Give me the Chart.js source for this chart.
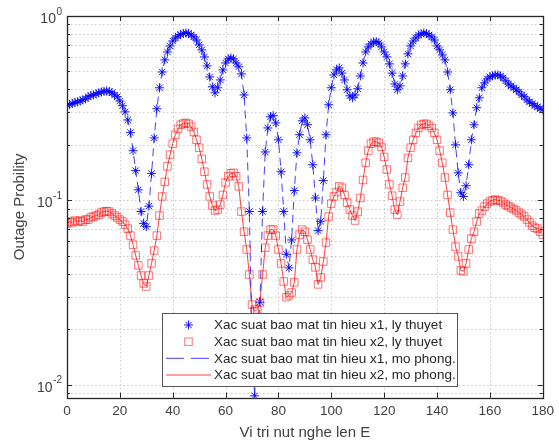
<!DOCTYPE html>
<html>
<head>
<meta charset="utf-8">
<script src="https://cdn.jsdelivr.net/npm/chart.js@4.4.1/dist/chart.umd.min.js"></script>
<style>
  html, body { margin: 0; padding: 0; background: #fff; }
  #wrap { width: 559px; height: 446px; }
</style>
</head>
<body>
<div id="wrap"><canvas id="outageChart" width="559" height="446"></canvas></div>
<script>
// ─── Data (x = vi tri nut nghe len E, step 1) ───
const xStart = 0;
const xStep = 1;

// x1, ly thuyet (blue asterisks)
const x1Theory = [
  0.330, 0.330, 0.335, 0.340, 0.342, 0.346, 0.351, 0.355, 0.365, 0.370,
  0.373, 0.378, 0.383, 0.387, 0.390, 0.392, 0.390, 0.383, 0.373, 0.365,
  0.346, 0.326, 0.302, 0.273, 0.233, 0.186, 0.145, 0.114, 0.087, 0.075,
  0.072, 0.093, 0.140, 0.218, 0.314, 0.408, 0.497, 0.578, 0.638, 0.688,
  0.732, 0.760, 0.780, 0.794, 0.804, 0.809, 0.804, 0.789, 0.770, 0.741,
  0.697, 0.655, 0.600, 0.536, 0.467, 0.413, 0.383, 0.408, 0.450, 0.510,
  0.556, 0.585, 0.592, 0.585, 0.556, 0.530, 0.485, 0.373, 0.218, 0.087,
  0.016, 0.0087, 0.018, 0.028, 0.087, 0.183, 0.247, 0.284, 0.288, 0.263,
  0.213, 0.143, 0.087, 0.051, 0.043, 0.061, 0.113, 0.181, 0.227, 0.270,
  0.280, 0.257, 0.213, 0.156, 0.103, 0.0685, 0.077, 0.128, 0.227, 0.330,
  0.408, 0.479, 0.510, 0.523, 0.490, 0.450, 0.398, 0.369, 0.360, 0.373,
  0.403, 0.473, 0.556, 0.638, 0.680, 0.705, 0.723, 0.727, 0.714, 0.680,
  0.638, 0.600, 0.550, 0.490, 0.428, 0.398, 0.418, 0.473, 0.550, 0.623,
  0.688, 0.732, 0.760, 0.789, 0.799, 0.809, 0.804, 0.789, 0.770, 0.741,
  0.688, 0.655, 0.615, 0.578, 0.497, 0.398, 0.298, 0.200, 0.141, 0.110,
  0.105, 0.120, 0.156, 0.213, 0.257, 0.318, 0.360, 0.408, 0.434, 0.456,
  0.468, 0.473, 0.479, 0.479, 0.473, 0.462, 0.445, 0.428, 0.418, 0.408,
  0.398, 0.388, 0.373, 0.365, 0.351, 0.342, 0.335, 0.326, 0.322, 0.314,
  0.310
];

// x2, ly thuyet (red squares)
const x2Theory = [
  0.0748, 0.0767, 0.0758, 0.0777, 0.0767, 0.0777, 0.0767, 0.0786, 0.0786, 0.0807,
  0.0817, 0.0827, 0.0837, 0.0858, 0.0869, 0.0874, 0.0869, 0.0848, 0.0827, 0.0807,
  0.0786, 0.0767, 0.0738, 0.0702, 0.0644, 0.0575, 0.0502, 0.0444, 0.0391, 0.0354,
  0.0341, 0.0391, 0.0455, 0.0534, 0.0644, 0.0827, 0.105, 0.126, 0.153, 0.177,
  0.203, 0.227, 0.244, 0.257, 0.261, 0.263, 0.260, 0.251, 0.235, 0.213,
  0.193, 0.168, 0.143, 0.122, 0.105, 0.0937, 0.0880, 0.0891, 0.0948, 0.107,
  0.125, 0.135, 0.140, 0.141, 0.135, 0.119, 0.0869, 0.0676, 0.0541, 0.0396,
  0.0272, 0.0250, 0.0256, 0.0279, 0.0396, 0.0554, 0.0644, 0.0694, 0.0694, 0.0644,
  0.0541, 0.0455, 0.0363, 0.0298, 0.0305, 0.0316, 0.0359, 0.0541, 0.0652, 0.0694,
  0.0676, 0.0612, 0.0541, 0.0477, 0.0433, 0.0350, 0.0382, 0.0466, 0.0590, 0.0817,
  0.0960, 0.105, 0.111, 0.119, 0.117, 0.107, 0.0972, 0.0891, 0.0827, 0.0777,
  0.0869, 0.103, 0.129, 0.160, 0.186, 0.203, 0.208, 0.208, 0.205, 0.195,
  0.172, 0.147, 0.122, 0.106, 0.0891, 0.0837, 0.0985, 0.117, 0.133, 0.170,
  0.193, 0.213, 0.232, 0.247, 0.257, 0.260, 0.260, 0.254, 0.247, 0.232,
  0.213, 0.186, 0.160, 0.133, 0.107, 0.0858, 0.0694, 0.0561, 0.0496, 0.0417,
  0.0412, 0.0455, 0.0541, 0.0620, 0.0676, 0.0767, 0.0848, 0.0880, 0.0925, 0.0960,
  0.0985, 0.100, 0.101, 0.100, 0.0994, 0.0972, 0.0948, 0.0931, 0.0914, 0.0897,
  0.0880, 0.0858, 0.0837, 0.0817, 0.0786, 0.0758, 0.0729, 0.0711, 0.0702, 0.0676,
  0.0652
];

// simulation curves sit on top of the theory points in the figure
const x1Sim = x1Theory;
const x2Sim = x2Theory;

const seriesLabels = [
  "Xac suat bao mat tin hieu x1, ly thuyet",
  "Xac suat bao mat tin hieu x2, ly thuyet",
  "Xac suat bao mat tin hieu x1, mo phong.",
  "Xac suat bao mat tin hieu x2, mo phong."
];

const xTitle = "Vi tri nut nghe len E";
const yTitle = "Outage Probility";

// axis ticks
const xMin = 0, xMax = 180, xTickStep = 20;
const yMin = 0.0085, yMax = 1;
const yTickValues = [
  0.009,
  0.01, 0.02, 0.03, 0.04, 0.05, 0.06, 0.07, 0.08, 0.09,
  0.1, 0.2, 0.3, 0.4, 0.5, 0.6, 0.7, 0.8, 0.9,
  1
];
const yLabelValues = [0.01, 0.1, 1];
const yLabelExponents = ["-2", "-1", "0"];

// ─── Styling ─────────────────────────────────────────────────────────
const BLUE = "rgba(0, 0, 255, 0.9)";
const BLUE_LINE = "rgba(0, 0, 255, 0.75)";
const RED_MARK = "rgba(255, 0, 0, 0.55)";
const RED_LINE = "rgba(255, 0, 0, 0.75)";
const GRID = "rgba(0, 0, 0, 0.2)";
const AXIS = "#262626";
const TEXT = "#404040";
const FONT = "'Liberation Sans', Arial, sans-serif";

const toPoints = (arr) => arr.map((v, i) => ({ x: xStart + i * xStep, y: v }));

// ─── MATLAB-look axes: dotted grid, box, inner ticks, y labels, legend ─
const matlabAxes = {
  id: "matlabAxes",
  beforeDatasetsDraw(chart) {
    const { ctx, chartArea: a, scales: { x, y } } = chart;
    ctx.save();
    ctx.strokeStyle = GRID;
    ctx.lineWidth = 1;
    ctx.setLineDash([1.5, 2.5]);
    x.ticks.forEach((t) => {
      const px = Math.round(x.getPixelForValue(t.value)) + 0.5;
      ctx.beginPath(); ctx.moveTo(px, a.top); ctx.lineTo(px, a.bottom); ctx.stroke();
    });
    y.ticks.forEach((t) => {
      const py = Math.round(y.getPixelForValue(t.value)) + 0.5;
      ctx.beginPath(); ctx.moveTo(a.left, py); ctx.lineTo(a.right, py); ctx.stroke();
    });
    ctx.restore();
  },
  afterDatasetsDraw(chart) {
    const { ctx, chartArea: a, scales: { x, y } } = chart;
    ctx.save();
    ctx.setLineDash([]);
    ctx.strokeStyle = AXIS;
    ctx.lineWidth = 1;

    // inner tick marks
    x.ticks.forEach((t) => {
      const px = Math.round(x.getPixelForValue(t.value)) + 0.5;
      ctx.beginPath();
      ctx.moveTo(px, a.bottom); ctx.lineTo(px, a.bottom - 5);
      ctx.moveTo(px, a.top); ctx.lineTo(px, a.top + 5);
      ctx.stroke();
    });
    y.ticks.forEach((t) => {
      const lg = Math.log10(t.value);
      const len = Math.abs(lg - Math.round(lg)) < 1e-9 ? 5 : 3;
      const py = Math.round(y.getPixelForValue(t.value)) + 0.5;
      ctx.beginPath();
      ctx.moveTo(a.left, py); ctx.lineTo(a.left + len, py);
      ctx.moveTo(a.right, py); ctx.lineTo(a.right - len, py);
      ctx.stroke();
    });

    // box
    ctx.lineWidth = 1.3;
    ctx.strokeRect(Math.round(a.left) + 0.5, Math.round(a.top) + 0.5,
      Math.round(a.right - a.left), Math.round(a.bottom - a.top));

    // y labels 10^n
    ctx.fillStyle = TEXT;
    ctx.textBaseline = "middle";
    ctx.textAlign = "right";
    yLabelValues.forEach((v, i) => {
      const py = y.getPixelForValue(v);
      const right = a.left - 5;
      ctx.font = `10px ${FONT}`;
      const ew = ctx.measureText(yLabelExponents[i]).width;
      ctx.fillText(yLabelExponents[i], right, py - 4);
      ctx.font = `14px ${FONT}`;
      ctx.fillText("10", right - ew - 0.5, py + 3);
    });

    // legend box
    const lx = 162.5, ly = 313.5, lw = 295, lh = 73;
    ctx.fillStyle = "#ffffff";
    ctx.fillRect(lx, ly, lw, lh);
    ctx.strokeStyle = "#555";
    ctx.lineWidth = 1;
    ctx.strokeRect(lx, ly, lw, lh);

    const rowY = [325, 341.7, 358.3, 375];
    const mx = 188.5;
    // row 1: asterisk
    drawStar(ctx, mx, rowY[0], 4.5, BLUE);
    // row 2: square
    ctx.strokeStyle = RED_MARK;
    ctx.lineWidth = 1;
    ctx.strokeRect(mx - 3.75, rowY[1] - 3.75, 7.5, 7.5);
    // row 3: dashed blue
    ctx.strokeStyle = BLUE_LINE;
    ctx.setLineDash([18, 7]);
    ctx.beginPath(); ctx.moveTo(166, rowY[2]); ctx.lineTo(211, rowY[2]); ctx.stroke();
    // row 4: solid red
    ctx.setLineDash([]);
    ctx.strokeStyle = RED_LINE;
    ctx.beginPath(); ctx.moveTo(166, rowY[3]); ctx.lineTo(211, rowY[3]); ctx.stroke();

    ctx.fillStyle = "#262626";
    ctx.font = `13.5px ${FONT}`;
    ctx.textAlign = "left";
    ctx.textBaseline = "middle";
    seriesLabels.forEach((s, i) => ctx.fillText(s, 214, rowY[i] + 0.5));
    ctx.restore();
  }
};

function drawStar(ctx, cx, cy, r, color) {
  const d = r * Math.SQRT1_2;
  ctx.save();
  ctx.strokeStyle = color;
  ctx.lineWidth = 1;
  ctx.beginPath();
  ctx.moveTo(cx - r, cy); ctx.lineTo(cx + r, cy);
  ctx.moveTo(cx, cy - r); ctx.lineTo(cx, cy + r);
  ctx.moveTo(cx - d, cy - d); ctx.lineTo(cx + d, cy + d);
  ctx.moveTo(cx - d, cy + d); ctx.lineTo(cx + d, cy - d);
  ctx.stroke();
  ctx.restore();
}

new Chart(document.getElementById("outageChart").getContext("2d"), {
  type: "line",
  data: {
    datasets: [
      {
        label: seriesLabels[0],
        data: toPoints(x1Theory),
        showLine: false,
        pointStyle: "star",
        pointRadius: 4.5,
        pointBorderWidth: 1,
        pointBorderColor: BLUE,
        pointBackgroundColor: BLUE,
        borderColor: BLUE,
        order: 3,
      },
      {
        label: seriesLabels[1],
        data: toPoints(x2Theory),
        showLine: false,
        pointStyle: "rect",
        pointRadius: 5.3,
        pointBorderWidth: 1,
        pointBorderColor: RED_MARK,
        pointBackgroundColor: "rgba(0,0,0,0)",
        borderColor: RED_MARK,
        order: 4,
      },
      {
        label: seriesLabels[2],
        data: toPoints(x1Sim),
        borderColor: BLUE_LINE,
        borderWidth: 1,
        borderDash: [8, 5],
        pointRadius: 0,
        tension: 0,
        fill: false,
        order: 1,
      },
      {
        label: seriesLabels[3],
        data: toPoints(x2Sim),
        borderColor: RED_LINE,
        borderWidth: 1,
        pointRadius: 0,
        tension: 0,
        fill: false,
        order: 2,
      },
    ],
  },
  options: {
    responsive: false,
    devicePixelRatio: 1,
    animation: false,
    events: [],
    layout: { autoPadding: false, padding: { top: 16, right: 7.5, left: 0, bottom: 0 } },
    plugins: {
      legend: { display: false },
      tooltip: { enabled: false },
    },
    scales: {
      x: {
        type: "linear",
        min: xMin,
        max: xMax,
        grid: { display: false, drawTicks: false },
        border: { display: false },
        ticks: {
          stepSize: xTickStep,
          padding: 5,
          color: TEXT,
          font: { family: FONT, size: 13.5 },
          maxRotation: 0,
        },
        title: {
          display: true,
          text: xTitle,
          color: TEXT,
          font: { family: FONT, size: 15 },
          padding: { top: 0, bottom: 4 },
        },
        afterFit: (scale) => { scale.height = 48.3; },
      },
      y: {
        type: "logarithmic",
        min: yMin,
        max: yMax,
        grid: { display: false, drawTicks: false },
        border: { display: false },
        ticks: { display: false, autoSkip: false },
        afterBuildTicks: (scale) => {
          scale.ticks = yTickValues.map((v) => ({ value: v }));
        },
        title: {
          display: true,
          text: yTitle,
          color: TEXT,
          font: { family: FONT, size: 15 },
          padding: { top: 11, bottom: 0 },
        },
        afterFit: (scale) => { scale.width = 67; },
      },
    },
  },
  plugins: [matlabAxes],
});
</script>
</body>
</html>
